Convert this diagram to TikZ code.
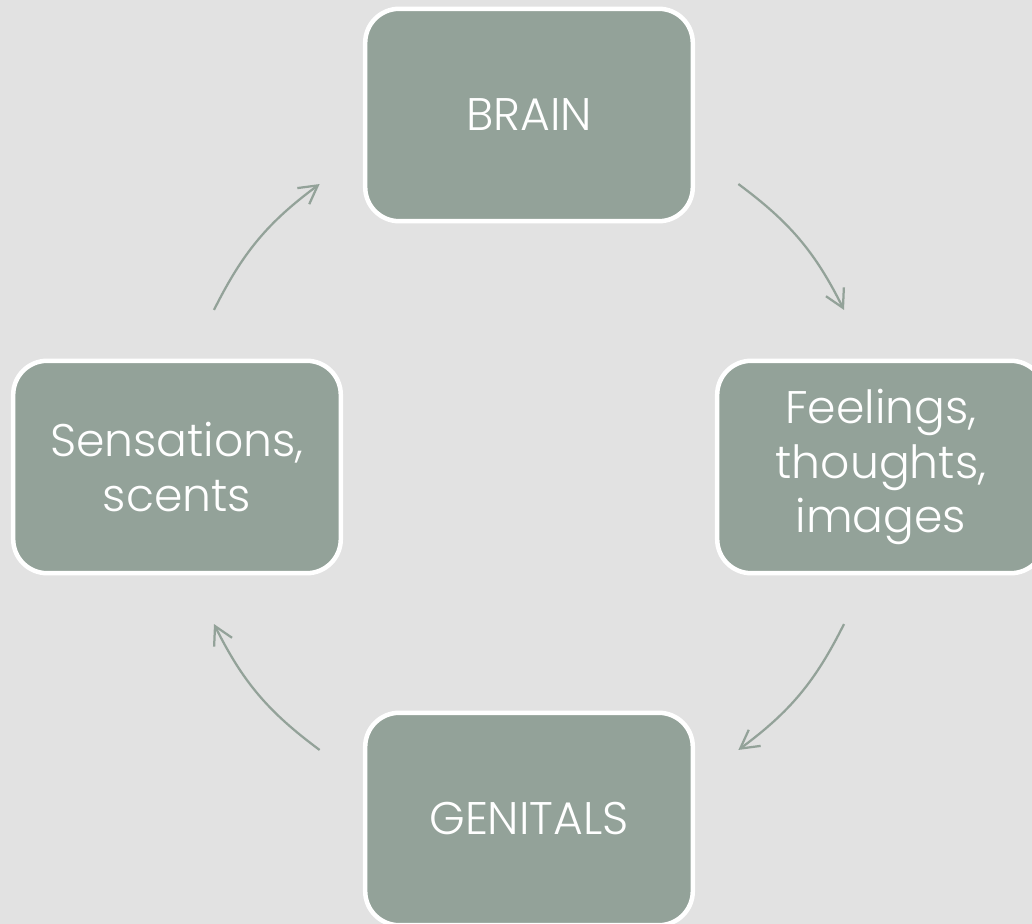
\documentclass[tikz,border=0pt]{standalone}
\usepackage{fontspec}
\setmainfont{Poppins}[UprightFont=* Light]
\usetikzlibrary{arrows.meta,calc}
\definecolor{sage}{RGB}{147,162,153}
\definecolor{paper}{RGB}{226,226,226}

\begin{document}
\begin{tikzpicture}[
   box/.style={draw=white,line width=3.2pt,fill=sage,rounded corners=0.85cm,
     minimum width=8.19cm,minimum height=5.31cm,text=white,align=center,
     font=\fontsize{32.5}{38.6}\selectfont},
   cyc/.style={sage,line width=1.6pt,-{Straight Barb[length=0.45cm,width=0.5cm]}}]
   \fill[paper] (-13.225,-11.425) rectangle (12.575,11.675);
   \useasboundingbox (-13.225,-11.425) rectangle (12.575,11.675);
   \coordinate (c) at (0,0);
   \node[box] (brain) at (0,8.8)  {BRAIN};
   \node[box] (feel)  at (8.8,0)  {Feelings,\\thoughts,\\images};
   \node[box] (genit) at (0,-8.8) {GENITALS};
   \node[box] (sens)  at (-8.8,0) {Sensations,\\scents};
   % arrow ends sit on a circle round (c)
   \foreach \n/\a/\b in {1/53.5/26.5,2/-26.5/-53.5,3/233.5/206.5,4/153.5/126.5} {
    \coordinate (s\n) at ($(c)+(\a:8.8)$);
    \coordinate (e\n) at ($(c)+(\b:8.8)$);
   }
   \draw[cyc] (s1) to[bend left=13.5] (e1);
   \draw[cyc] (s2) to[bend left=13.5] (e2);
   \draw[cyc] (s3) to[bend left=13.5] (e3);
   \draw[cyc] (s4) to[bend left=13.5] (e4);
\end{tikzpicture}
\end{document}
